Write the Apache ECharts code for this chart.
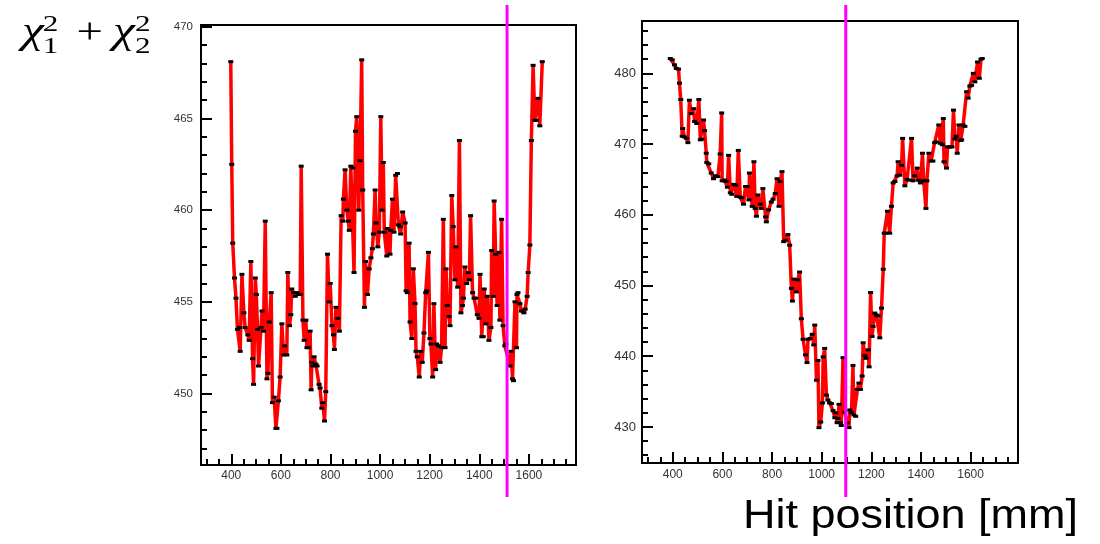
<!DOCTYPE html>
<html>
<head>
<meta charset="utf-8">
<script src="https://cdn.jsdelivr.net/npm/echarts@6/dist/echarts.min.js"></script>
<style>
html, body { margin: 0; padding: 0; background: #fff; }
#chart { width: 1100px; height: 544px; }
</style>
</head>
<body>
<div id="chart"></div>
<script>
// Hit position [mm] and chi-square sum, scan of the first configuration
const leftX = [398,402,406,413,419,425,433,436,443,451,456,467,472,479,486,490,497,501,506,510,520,524,530,537,544,548,553,561,566,573,580,584,590,597,604,611,615,624,628,635,640,644,651,658,665,671,678,682,689,694,701,705,711,718,722,725,729,734,741,746,754,758,765,769,776,781,788,795,799,806,812,816,822,829,836,843,850,852,859,866,872,876,882,890,895,901,906,914,919,926,930,937,941,949,956,963,969,973,980,984,991,997,1003,1008,1013,1017,1027,1029,1040,1043,1050,1056,1063,1070,1074,1081,1083,1091,1101,1105,1110,1117,1121,1128,1134,1141,1145,1150,1158,1164,1170,1177,1184,1188,1195,1201,1205,1212,1217,1224,1228,1235,1242,1248,1255,1262,1266,1271,1278,1282,1289,1295,1302,1306,1313,1320,1326,1332,1336,1342,1349,1356,1360,1365,1373,1379,1386,1392,1399,1403,1410,1416,1420,1427,1432,1439,1447,1450,1456,1460,1466,1472,1480,1483,1490,1496,1503,1507,1524,1528,1534,1538,1544,1550,1552,1556,1564,1570,1580,1585,1593,1597,1604,1610,1617,1624,1631,1637,1644,1654];
const leftY = [468.1,462.5,458.2,456.3,455.2,453.5,453.6,452.3,456.5,454.4,453.6,453.2,452.9,457.2,451.9,450.5,456.3,455.4,453.5,451.5,453.6,454.5,453.4,459.4,450.8,451.1,453.9,455.5,449.5,449.8,448.1,448.1,449.6,450.9,453.8,452.1,452.6,452.1,456.6,453.7,454.3,455.7,455.5,455.3,455.5,455.4,455.4,462.4,454.0,452.9,454.0,452.5,452.5,453.4,450.2,451.7,451.5,452.0,451.6,451.5,450.5,450.3,449.2,449.5,448.5,450.1,457.6,455.0,456.0,453.7,453.2,452.4,454.7,454.1,453.4,459.7,459.4,460.6,462.2,460.0,459.4,458.9,462.4,462.3,456.6,464.3,465.1,460.0,462.7,468.2,461.1,454.7,457.2,455.4,456.8,457.4,457.9,458.7,461.1,459.3,458.0,458.8,465.1,460.0,462.6,458.8,457.5,459.0,457.6,458.9,460.6,458.8,461.9,462.0,459.2,459.1,458.7,459.9,459.3,455.6,455.5,458.2,453.9,453.0,456.8,454.9,452.3,452.0,450.9,452.3,451.7,453.3,455.5,455.6,457.7,453.0,452.7,450.9,454.9,451.3,452.7,452.6,451.7,452.5,459.5,452.5,456.8,454.8,454.2,453.7,460.8,459.1,456.2,458.0,455.8,463.8,454.4,454.8,455.2,456.9,456.0,456.6,456.2,459.7,455.5,455.2,455.2,454.3,454.1,456.5,453.1,453.1,455.7,453.8,455.3,452.9,453.6,457.8,455.3,460.5,457.6,454.8,457.7,454.0,459.5,453.7,452.6,452.7,451.5,452.3,450.8,450.7,455.0,452.5,455.4,455.5,454.9,454.5,454.4,454.6,455.3,456.6,458.1,463.8,467.9,464.9,464.9,466.1,464.6,468.1];

// Second configuration
const rightX = [390,398,407,414,423,427,432,438,440,447,456,461,467,474,484,488,497,505,511,517,524,528,535,537,545,555,564,572,582,591,597,599,609,615,620,625,632,638,645,653,658,664,672,678,685,693,700,707,709,720,727,732,737,743,753,757,763,774,777,786,797,804,813,820,828,833,840,847,855,864,871,878,882,888,898,904,911,918,925,935,941,945,954,962,968,972,979,985,989,996,1003,1006,1012,1019,1025,1032,1039,1046,1053,1057,1062,1066,1070,1075,1079,1086,1093,1102,1110,1113,1120,1126,1130,1137,1144,1150,1156,1163,1167,1174,1178,1187,1191,1197,1203,1207,1214,1221,1227,1234,1241,1248,1252,1260,1265,1274,1281,1288,1295,1304,1308,1315,1322,1326,1335,1344,1352,1362,1368,1375,1385,1389,1398,1406,1411,1420,1424,1432,1441,1448,1455,1462,1472,1478,1486,1490,1493,1503,1507,1516,1525,1531,1537,1542,1546,1553,1560,1564,1570,1577,1584,1590,1597,1604,1611,1617,1628,1635,1642,1647];
const rightY = [482.1,481.9,481.2,480.7,480.6,478.6,476.3,471.1,472.2,471.0,470.8,470.2,476.2,474.3,475.0,473.2,472.9,476.3,470.6,470.7,473.4,471.9,468.7,467.4,467.2,465.9,465.1,465.5,465.4,468.6,474.4,464.8,464.9,464.7,463.9,468.4,463.1,462.9,464.3,464.2,462.6,469.1,462.5,462.4,461.5,464.0,464.0,462.1,465.9,461.2,467.5,460.9,459.8,462.8,461.5,460.9,463.7,459.7,459.0,460.7,461.8,462.2,463.0,465.1,461.2,464.7,466.1,456.2,456.4,457.2,455.7,449.6,447.8,450.9,449.1,450.8,451.9,445.3,442.4,440.2,439.1,442.4,442.5,443.1,441.6,444.4,436.6,439.4,429.9,430.7,433.4,439.9,441.1,434.5,433.8,433.4,433.3,432.3,431.3,432.0,430.6,431.2,433.2,430.6,430.2,439.8,432.1,430.6,429.9,432.4,432.0,438.7,431.7,431.5,435.3,436.2,435.3,437.2,441.9,440.1,439.7,440.9,438.5,449.0,442.8,444.2,446.1,445.8,445.7,442.6,446.8,452.3,457.4,457.4,460.5,457.4,461.2,464.5,464.7,465.5,467.5,465.6,467.0,470.8,464.1,465.0,464.9,470.8,464.8,465.5,466.6,464.9,464.5,468.7,464.8,460.9,464.8,468.7,467.6,467.6,470.2,470.3,472.7,470.1,469.9,473.6,467.5,466.6,469.6,469.6,469.6,474.8,470.7,471.1,468.7,472.7,470.5,470.6,472.7,472.5,477.4,476.5,478.2,478.3,480.0,478.8,481.6,479.3,482.0,482.1];

// Tick positions and labels
const xMajorTicks = [400, 600, 800, 1000, 1200, 1400, 1600];
const xMinorTicks = [300, 350, 450, 500, 550, 650, 700, 750, 850, 900, 950, 1050, 1100, 1150, 1250, 1300, 1350, 1450, 1500, 1550, 1650, 1700, 1750];
const leftYMajorTicks = [450, 455, 460, 465, 470];
const leftYMinorTicks = [447, 448, 449, 451, 452, 453, 454, 456, 457, 458, 459, 461, 462, 463, 464, 466, 467, 468, 469];
const rightYMajorTicks = [430, 440, 450, 460, 470, 480];
const rightYMinorTicks = [426, 428, 432, 434, 436, 438, 442, 444, 446, 448, 452, 454, 456, 458, 462, 464, 466, 468, 472, 474, 476, 478, 482, 484, 486];

// Best-fit positions marked by the vertical lines
const cutLeft = 1512;
const cutRight = 1097;

const pair = (xs, ys) => xs.map((x, i) => [x, ys[i]]);
const black = '#000';
const labelFamily = '"Liberation Sans", Arial, Helvetica, sans-serif';

function axisPair(kind, gridIndex, min, max, major, minor, labelSize, labelMargin) {
  const position = kind === 'x' ? 'bottom' : 'left';
  const main = {
    type: 'value', gridIndex, min, max, position,
    axisLine: { show: true, onZero: false, lineStyle: { color: black, width: 2 } },
    axisTick: { show: true, inside: true, length: 11, customValues: major, lineStyle: { color: black, width: 2 } },
    axisLabel: {
      show: true, customValues: major, color: '#333', fontFamily: labelFamily,
      fontSize: labelSize, margin: labelMargin, formatter: v => String(v)
    },
    splitLine: { show: false }
  };
  const sub = {
    type: 'value', gridIndex, min, max, position,
    axisLine: { show: false, onZero: false },
    axisTick: { show: true, inside: true, length: 6, customValues: minor, lineStyle: { color: black, width: 2 } },
    axisLabel: { show: false },
    splitLine: { show: false }
  };
  return [main, sub];
}

const chart = echarts.init(document.getElementById('chart'));

const lineSeries = (data, xi, yi) => ({
  type: 'line',
  data,
  xAxisIndex: xi,
  yAxisIndex: yi,
  showAllSymbol: true,
  symbol: 'rect',
  symbolSize: [5, 3],
  itemStyle: { color: black },
  lineStyle: { color: '#ff0000', width: 3.5 },
  emphasis: { disabled: true },
  animation: false
});

const option = {
  backgroundColor: '#fff',
  animation: false,
  grid: [
    { left: 201, top: 25, width: 375, height: 440, show: true, borderColor: black, borderWidth: 2, backgroundColor: 'transparent' },
    { left: 642, top: 21, width: 376, height: 442, show: true, borderColor: black, borderWidth: 2, backgroundColor: 'transparent' }
  ],
  xAxis: [
    ...axisPair('x', 0, 278, 1790, xMajorTicks, xMinorTicks, 12, 5),
    ...axisPair('x', 1, 276, 1791, xMajorTicks, xMinorTicks, 12, 6)
  ],
  yAxis: [
    ...axisPair('y', 0, 446.1, 470.1, leftYMajorTicks, leftYMinorTicks, 11.5, 8),
    ...axisPair('y', 1, 424.9, 487.4, rightYMajorTicks, rightYMinorTicks, 13, 6)
  ],
  series: [
    lineSeries(pair(leftX, leftY), 0, 0),
    lineSeries(pair(rightX, rightY), 2, 2)
  ]
};

chart.setOption(option);

const xL = chart.convertToPixel({ xAxisIndex: 0 }, cutLeft);
const xR = chart.convertToPixel({ xAxisIndex: 2 }, cutRight);

// Text boxes are placed by their top edge; the baseline sits about 0.84 em lower.
const serif = '"Liberation Serif", "Times New Roman", "DejaVu Serif", serif';
const chiText = (x, baseline, text, size, italic) => ({
  type: 'text', x, y: baseline - 0.84 * size,
  style: { text, font: (italic ? 'italic ' : '') + size + 'px ' + serif, fill: black, verticalAlign: 'top' }
});

chart.setOption({
  graphic: [
    { type: 'line', shape: { x1: xL, y1: 5, x2: xL, y2: 497 }, style: { stroke: '#ff00ff', lineWidth: 3 }, z: 100 },
    { type: 'line', shape: { x1: xR, y1: 5, x2: xR, y2: 497 }, style: { stroke: '#ff00ff', lineWidth: 3 }, z: 100 },
    {
      type: 'group', x: 22, y: 0, scaleX: 1.3, z: 100,
      children: [
        chiText(0, 46, 'χ', 38, true),
        chiText(16, 33, '2', 24, false),
        chiText(16, 55, '1', 24, false),
        chiText(42, 46, '+', 36, false),
        chiText(70, 46, 'χ', 38, true),
        chiText(87, 33, '2', 24, false),
        chiText(87, 55, '2', 24, false)
      ]
    },
    {
      type: 'text', x: 743, y: 531 - 0.85 * 40, scaleX: 1.125, z: 100,
      style: { text: 'Hit position [mm]', font: '40px ' + labelFamily, fill: black, verticalAlign: 'top' }
    }
  ]
});
</script>
</body>
</html>
